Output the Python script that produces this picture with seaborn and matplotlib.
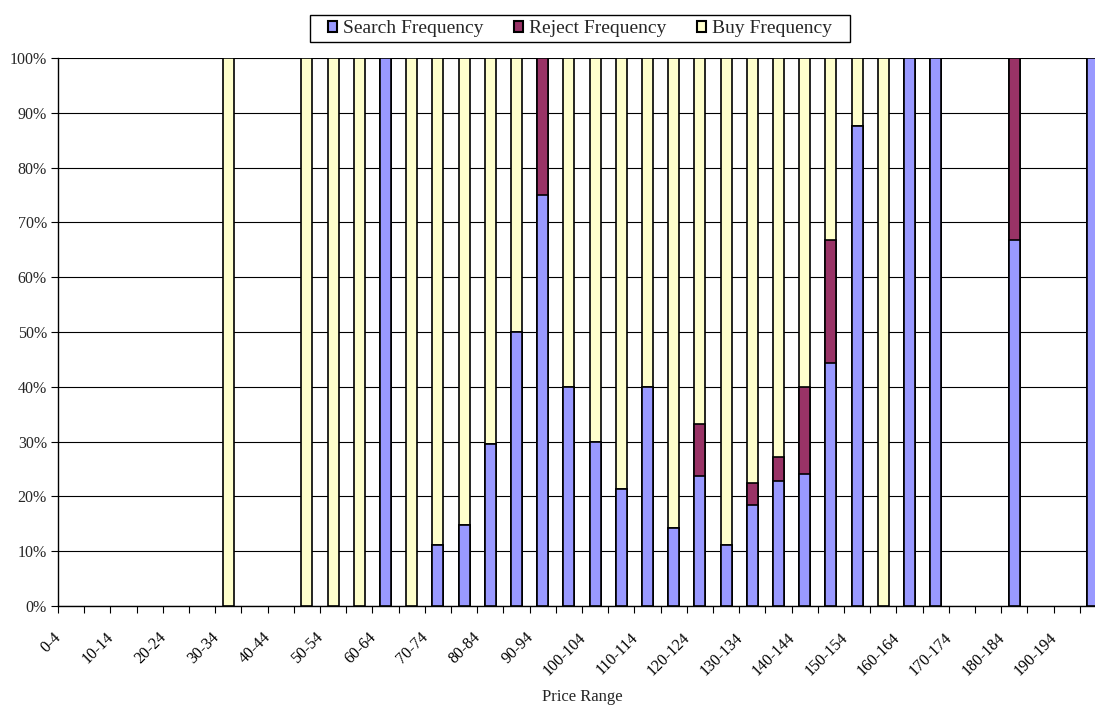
import matplotlib
matplotlib.use("Agg")
import matplotlib.pyplot as plt
import matplotlib.transforms as mtransforms
from matplotlib.patches import Patch, Rectangle
from matplotlib.ticker import FixedLocator, PercentFormatter
import numpy as np
import pandas as pd
import seaborn as sns

sns.set_theme(style="ticks")
plt.rcParams['font.family'] = ['Liberation Serif', 'DejaVu Serif']

# --- data: share of search / reject / buy per price range (in %) ---
price_ranges = [f"{i}-{i + 4}" for i in range(0, 200, 5)]

nan = np.nan
search_pct = [nan, nan, nan, nan, nan, nan, 0, nan, nan, 0,
              0, 0, 100, 0, 11.1, 14.8, 29.6, 50, 75, 40,
              30, 21.4, 40, 14.3, 23.8, 11.1, 18.5, 22.9, 24.0, 44.4,
              87.5, 0, 100, 100, nan, nan, 66.7, nan, nan, 100]
reject_pct = [nan, nan, nan, nan, nan, nan, 0, nan, nan, 0,
              0, 0, 0, 0, 0, 0, 0, 0, 25, 0,
              0, 0, 0, 0, 9.5, 0, 4.0, 4.2, 16.0, 22.3,
              0, 0, 0, 0, nan, nan, 33.3, nan, nan, 0]
buy_pct = [nan, nan, nan, nan, nan, nan, 100, nan, nan, 100,
           100, 100, 0, 100, 88.9, 85.2, 70.4, 50, 0, 60,
           70, 78.6, 60, 85.7, 66.7, 88.9, 77.5, 72.9, 60.0, 33.3,
           12.5, 100, 0, 0, nan, nan, 0, nan, nan, 0]

series_names = ["Search Frequency", "Reject Frequency", "Buy Frequency"]
series_colors = ["#9999FF", "#993366", "#FFFFCC"]

df = pd.DataFrame({"range": price_ranges, "search": search_pct,
                   "reject": reject_pct, "buy": buy_pct})
df["search_top"] = df["search"]
df["reject_top"] = df["search"] + df["reject"]
df["buy_top"] = df["reject_top"] + df["buy"]

fig = plt.figure(figsize=(10.95, 7.08), dpi=100)
ax = fig.add_axes([58 / 1095, 1 - 606 / 708, (1106 - 58) / 1095, 548 / 708])

# stacked look: draw cumulative tops from the back to the front
for col, color in [("buy_top", series_colors[2]),
                   ("reject_top", series_colors[1]),
                   ("search_top", series_colors[0])]:
    layer = df[df[col] > 0]
    sns.barplot(data=layer, x="range", y=col, order=price_ranges,
                color=color, saturation=1, width=0.42, errorbar=None,
                edgecolor="black", linewidth=1.2, ax=ax, zorder=3)

ax.set_xlim(-0.5, len(price_ranges) - 0.5)
ax.set_ylim(0, 100)
ax.set_yticks(np.arange(0, 101, 10))
ax.yaxis.set_major_formatter(PercentFormatter(decimals=0))
ax.grid(axis="y", color="black", linewidth=0.8, zorder=0)
ax.grid(axis="x", visible=False)
ax.set_axisbelow(True)

# labels on every other category, ticks between categories
label_pos = list(range(0, len(price_ranges), 2))
ax.set_xticks(label_pos)
ax.set_xticklabels([price_ranges[i] for i in label_pos], rotation=45,
                   ha="right", va="center", rotation_mode="anchor")
ax.xaxis.set_minor_locator(FixedLocator(np.arange(-0.5, len(price_ranges), 1)))
ax.tick_params(axis="x", which="major", length=0, pad=21, labelsize=11.5,
               colors="black")
ax.tick_params(axis="x", which="minor", length=5, width=0.8, color="black",
               direction="out")
ax.tick_params(axis="y", length=5, width=0.8, color="black", direction="out",
               labelsize=11.5, pad=3)
shift = mtransforms.ScaledTranslation(-12 / 100, 0, fig.dpi_scale_trans)
for lbl in ax.get_xticklabels():
    lbl.set_transform(lbl.get_transform() + shift)

ax.set_ylabel("")
ax.set_xlabel("Price Range", fontsize=12)
ax.xaxis.set_label_coords(0.5, -0.152)

for side in ["top", "right"]:
    ax.spines[side].set_visible(False)
for side in ["left", "bottom"]:
    ax.spines[side].set_color("black")
    ax.spines[side].set_linewidth(1.0)

# legend with its own frame (wider than the default padding allows)
handles = [Patch(facecolor=c, edgecolor="black", linewidth=1.5, label=n)
           for n, c in zip(series_names, series_colors)]
leg = fig.legend(handles=handles, ncol=3, loc="center",
                 bbox_to_anchor=(580 / 1095, 1 - 28.5 / 708), fontsize=14,
                 frameon=False, handlelength=0.45, handleheight=0.5,
                 handletextpad=0.3, columnspacing=1.6, borderpad=0.2)
fig.patches.append(Rectangle((310 / 1095, 1 - 42 / 708), 540 / 1095, 27 / 708,
                             transform=fig.transFigure, facecolor="white",
                             edgecolor="black", linewidth=1.0, zorder=0))

fig.savefig("out.png", dpi=100)
